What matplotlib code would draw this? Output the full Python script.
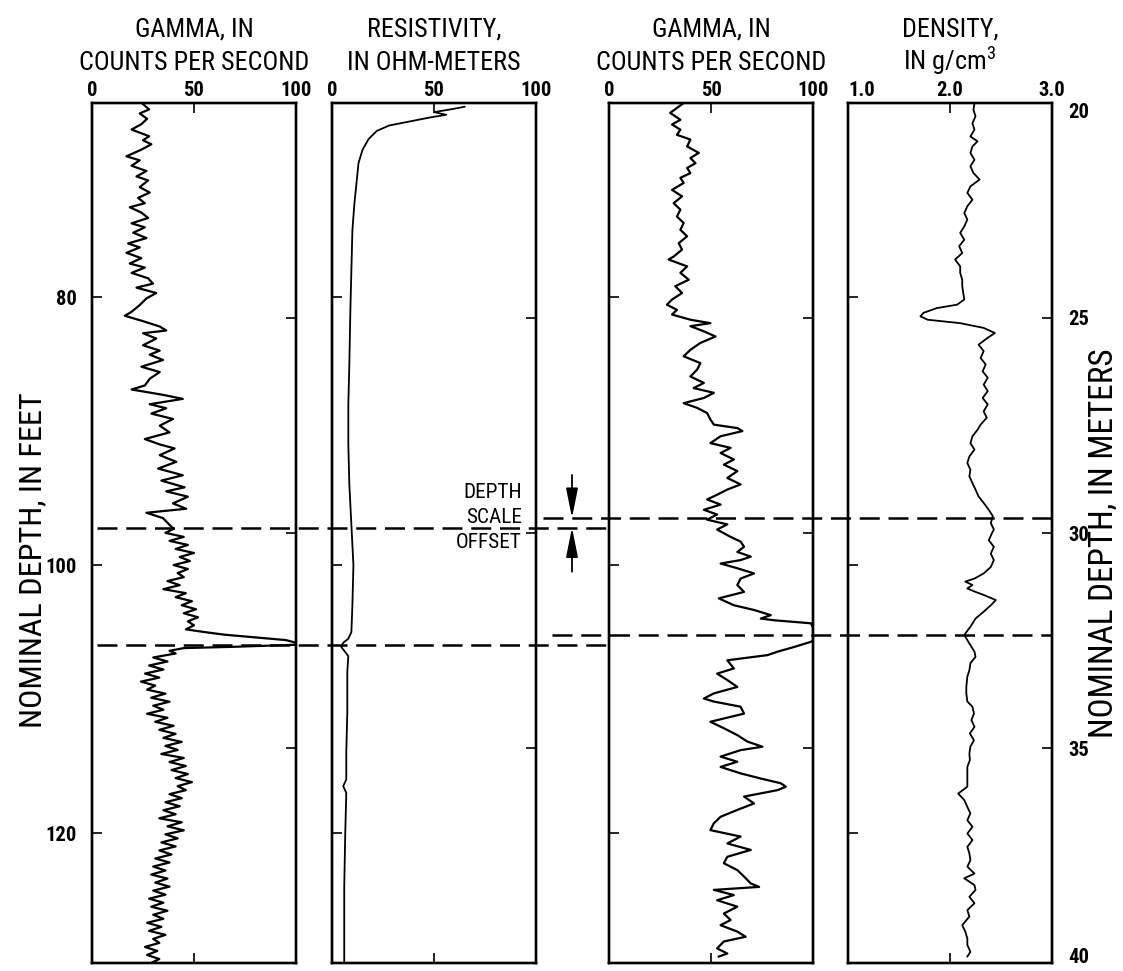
import numpy as np
import matplotlib
matplotlib.use("Agg")
import matplotlib.pyplot as plt
from matplotlib import font_manager
from matplotlib.transforms import blended_transform_factory
from matplotlib.patches import FancyArrowPatch

# ---------------- data ----------------
# Panel 1: gamma (counts per second) vs nominal depth in feet
gamma1_depth_ft = [65.6, 66.0, 66.3, 66.7, 67.1, 67.5, 68.0, 68.3, 68.6, 69.0, 69.5, 69.8, 70.2, 70.6,
                   71.0, 71.3, 71.8, 72.2, 72.6, 73.0, 73.3, 73.7, 74.1, 74.5, 74.8, 75.2, 75.6, 76.0,
                   76.3, 76.7, 77.1, 77.5, 77.8, 78.2, 78.6, 79.0, 79.3, 79.7, 80.1, 80.6, 81.1, 81.4,
                   81.8, 82.2, 82.5, 82.7, 83.1, 83.6, 84.0, 84.3, 84.7, 85.2, 85.6, 86.1, 86.6, 86.9,
                   87.3, 87.6, 88.0, 88.3, 88.7, 89.1, 89.6, 90.1, 90.6, 91.0, 91.3, 91.8, 92.3, 92.8,
                   93.3, 93.7, 94.2, 94.5, 94.9, 95.4, 95.8, 96.1, 96.5, 97.0,
                   97.3, 97.6, 97.9, 98.2, 98.5, 98.8, 99.1, 99.4, 99.7, 100.0, 100.3, 100.6, 100.9,
                   101.2, 101.5, 101.8, 102.1, 102.4, 102.7, 103.0, 103.3, 103.6, 103.9, 104.2, 104.5,
                   104.8, 105.0, 105.2, 105.4, 105.6, 105.8, 105.95, 106.1, 106.2, 106.4, 106.6, 106.9,
                   107.2, 107.5, 107.8, 108.1, 108.4, 108.7, 109.0, 109.3, 109.6, 109.9, 110.2, 110.5,
                   110.8, 111.1, 111.4, 111.7, 112.0, 112.3, 112.6, 112.9, 113.2, 113.5, 113.8, 114.1,
                   114.4, 114.7, 115.0, 115.3, 115.6, 115.9, 116.2, 116.5, 116.8, 117.1, 117.4, 117.7,
                   118.0, 118.3, 118.6, 118.9, 119.2, 119.5, 119.8, 120.1, 120.4, 120.7, 121.0, 121.3,
                   121.6, 121.9, 122.2, 122.5, 122.8, 123.1, 123.4, 123.7, 124.0, 124.3, 124.6, 124.9,
                   125.2, 125.5, 125.8, 126.1, 126.4, 126.7, 127.0, 127.3, 127.6, 127.9, 128.2, 128.5,
                   128.8, 129.1, 129.4, 129.7]
gamma1_cps = [25.0, 28.0, 23.4, 27.0, 24.2, 19.4, 28.0, 25.0, 29.1, 24.2, 16.9, 23.4, 19.4, 26.7,
              21.8, 27.5, 23.4, 28.3, 22.6, 25.9, 18.5, 24.2, 27.5, 19.4, 25.9, 20.2, 26.7, 17.7,
              23.4, 16.9, 24.2, 18.5, 25.9, 19.4, 27.5, 29.9, 21.8, 31.5, 26.7, 23.4, 19.4, 16.1,
              25.0, 33.2, 36.4, 25.0, 31.5, 25.0, 33.2, 28.3, 34.8, 24.2, 33.2, 28.3, 25.9, 19.4,
              34.8, 44.5, 28.3, 36.4, 29.1, 39.7, 33.2, 38.0, 25.9, 33.2, 40.5, 33.2, 41.3, 32.4,
              44.5, 34.0, 45.4, 36.4, 47.0, 39.7, 46.2, 26.7, 34.8, 38.0,
              40, 36, 45, 38, 47, 41, 50, 43, 48, 40, 47, 42, 45,
              37, 43, 35, 46, 41, 49, 44, 51, 45, 52, 47, 50,
              46, 55, 65, 80, 95, 100, 100, 70, 45, 38, 41, 30,
              37, 28, 35, 26, 33, 24, 31, 27, 36, 29, 38, 30,
              35, 27, 37, 31, 40, 33, 41, 35, 44, 36, 42, 34,
              45, 38, 46, 39, 47, 41, 49, 42, 46, 38, 44, 36,
              43, 35, 41, 33, 44, 37, 45, 36, 42, 34, 41, 33,
              39, 31, 38, 30, 36, 29, 37, 31, 38, 30, 36, 28,
              35, 29, 37, 30, 35, 27, 34, 28, 36, 30, 33, 26,
              32, 27, 33, 29]

# Panel 2: resistivity (ohm-meters) vs nominal depth in feet
res_depth_ft = [65.8, 66.0, 66.2, 66.4, 66.6, 66.9, 67.2, 67.6, 68.2, 69.0, 70.0, 71.5, 73.0, 75.0,
                78.0, 81.0, 85.0, 88.0, 91.0, 94.0, 97.0, 100.0, 103.0, 105.0, 105.5, 105.8,
                106.1, 106.4, 106.8, 108.0, 111.0, 114.0, 116.0, 116.5, 117.0, 120.0, 124.0, 127.0, 129.7]
res_ohmm = [65, 58, 50, 56, 48, 38, 28, 22, 18, 15, 13, 12, 11, 10,
            9.5, 9, 8.5, 8, 8, 8.5, 9.5, 10.5, 10, 9.5, 8, 5.5,
            4.5, 6, 8, 7.5, 7.5, 7, 7, 5.5, 7, 6.5, 6, 6, 6]

# Panel 3: gamma (counts per second) vs nominal depth in meters
gamma3_depth_m = [20.00, 20.23, 20.39, 20.50, 20.62, 20.74, 20.85, 21.01, 21.16, 21.28, 21.40, 21.51,
                  21.63, 21.74, 21.86, 22.02, 22.17, 22.33, 22.48, 22.64, 22.79, 22.95, 23.10, 23.26,
                  23.41, 23.57, 23.64, 23.80, 23.95, 24.11, 24.26, 24.42, 24.57, 24.69, 24.81, 24.92,
                  25.04, 25.12, 25.19, 25.31, 25.43, 25.58, 25.74, 25.89, 26.05, 26.20, 26.36, 26.51,
                  26.63, 26.74, 26.86, 26.98, 27.09, 27.21, 27.36, 27.48, 27.56, 27.63, 27.75, 27.91,
                  28.02, 28.14, 28.29, 28.41, 28.56, 28.72, 28.87, 28.99, 29.11, 29.22, 29.34, 29.46,
                  29.57, 29.69, 29.80, 29.92, 30.09, 30.20, 30.32, 30.44, 30.55, 30.63, 30.71, 30.82,
                  30.94, 31.06, 31.21, 31.37, 31.52, 31.68, 31.79, 31.91, 31.99, 32.03, 32.10, 32.20,
                  32.50, 32.53, 32.65, 32.76, 32.84, 32.96, 33.15, 33.27, 33.42, 33.58, 33.73, 33.85,
                  33.92, 34.04, 34.20, 34.39, 34.54, 34.70, 34.85, 34.97, 35.05, 35.20, 35.32, 35.44,
                  35.59, 35.71, 35.82, 35.90, 35.98, 36.13, 36.29, 36.44, 36.60, 36.75, 36.91, 37.06,
                  37.22, 37.37, 37.53, 37.68, 37.84, 37.99, 38.15, 38.23, 38.30, 38.42, 38.54, 38.69,
                  38.85, 39.00, 39.12, 39.27, 39.39, 39.50, 39.66, 39.78, 39.85]
gamma3_cps = [36.6, 30.0, 35.0, 30.9, 35.0, 33.3, 39.9, 38.3, 44.0, 39.9, 42.4, 38.3,
              39.9, 35.0, 36.6, 30.9, 35.8, 31.7, 35.0, 33.3, 36.6, 35.0, 38.3, 34.2,
              35.8, 31.7, 29.2, 38.3, 35.0, 39.1, 32.5, 35.8, 30.9, 28.4, 33.3, 30.9,
              39.9, 49.7, 39.9, 46.5, 52.2, 44.8, 39.9, 36.6, 44.8, 43.2, 39.9, 46.5,
              41.5, 51.4, 46.5, 36.6, 43.2, 48.1, 49.7, 51.4, 62.9, 65.4, 54.7, 49.7,
              59.6, 54.7, 61.2, 56.3, 62.9, 58.0, 64.5, 58.0, 53.0, 48.1, 54.7, 46.5,
              53.0, 48.1, 58.0, 53.0, 59.6, 64.5, 66.2, 62.9, 69.5, 64.5, 54.7, 62.9,
              71.1, 64.5, 62.9, 66.2, 53.8, 61.2, 71.1, 79.3, 74.4, 81.0, 99.0, 100.0,
              100.0, 99.0, 90.8, 82.6, 77.7, 58.0, 61.2, 53.0, 58.0, 62.9, 51.4, 46.5,
              51.4, 64.5, 66.2, 49.7, 56.3, 62.9, 67.8, 75.2, 64.5, 54.7, 62.9, 54.7,
              64.5, 74.4, 84.2, 86.7, 82.6, 66.2, 71.1, 62.9, 54.7, 51.4, 49.7, 64.5,
              58.0, 69.5, 58.0, 56.3, 62.9, 66.2, 69.5, 73.6, 51.4, 61.2, 53.0, 62.9,
              56.3, 59.6, 54.7, 62.9, 67.0, 56.3, 53.0, 58.0, 53.8]

# Panel 4: density (g/cm3) vs nominal depth in meters
dens_depth_m = [20.00, 20.16, 20.31, 20.47, 20.62, 20.78, 20.89, 21.01, 21.16, 21.32, 21.47, 21.63,
                21.78, 21.94, 22.09, 22.25, 22.40, 22.56, 22.71, 22.87, 23.02, 23.18, 23.33, 23.49,
                23.64, 23.80, 23.95, 24.11, 24.26, 24.42, 24.57, 24.69, 24.77, 24.88, 24.96, 25.04,
                25.12, 25.23, 25.35, 25.46, 25.62, 25.77, 25.93, 26.08, 26.24, 26.39, 26.55, 26.70,
                26.86, 27.01, 27.17, 27.32, 27.48, 27.60, 27.75, 27.91, 28.06, 28.22, 28.37, 28.53,
                28.68, 28.84, 28.99, 29.15, 29.30, 29.46, 29.61, 29.77, 29.92, 30.01, 30.17, 30.32,
                30.48, 30.63, 30.79, 30.94, 31.06, 31.13, 31.21, 31.29, 31.37, 31.44, 31.56, 31.68,
                31.83, 31.99, 32.18, 32.37, 32.57, 32.76, 32.88, 33.03, 33.19, 33.34, 33.58, 33.73,
                33.92, 34.04, 34.20, 34.35, 34.51, 34.66, 34.82, 34.97, 35.13, 35.28, 35.44, 35.67,
                35.90, 36.06, 36.21, 36.37, 36.52, 36.68, 36.83, 36.99, 37.14, 37.30, 37.45, 37.61,
                37.76, 37.92, 38.03, 38.19, 38.30, 38.46, 38.61, 38.77, 38.92, 39.12, 39.27, 39.43,
                39.58, 39.74, 39.85]
dens_gcc = [2.24, 2.23, 2.25, 2.22, 2.24, 2.20, 2.27, 2.22, 2.20, 2.24, 2.20, 2.23,
            2.29, 2.20, 2.17, 2.22, 2.17, 2.14, 2.17, 2.14, 2.10, 2.14, 2.09, 2.12,
            2.05, 2.10, 2.10, 2.12, 2.12, 2.13, 2.14, 2.07, 1.87, 1.74, 1.71, 1.78,
            2.10, 2.33, 2.44, 2.37, 2.28, 2.33, 2.30, 2.35, 2.32, 2.37, 2.33, 2.37,
            2.32, 2.37, 2.33, 2.36, 2.30, 2.27, 2.22, 2.20, 2.24, 2.19, 2.17, 2.20,
            2.19, 2.22, 2.25, 2.28, 2.33, 2.38, 2.42, 2.40, 2.43, 2.41, 2.38, 2.43,
            2.40, 2.43, 2.40, 2.33, 2.24, 2.15, 2.22, 2.17, 2.25, 2.33, 2.45, 2.40,
            2.33, 2.25, 2.20, 2.14, 2.19, 2.24, 2.25, 2.20, 2.19, 2.17, 2.16, 2.16,
            2.17, 2.22, 2.235, 2.21, 2.24, 2.195, 2.235, 2.20, 2.19, 2.195, 2.17, 2.17,
            2.17, 2.08, 2.14, 2.17, 2.20, 2.17, 2.22, 2.17, 2.22, 2.17, 2.19, 2.20,
            2.17, 2.24, 2.14, 2.24, 2.25, 2.19, 2.24, 2.17, 2.19, 2.12, 2.15, 2.17,
            2.17, 2.20, 2.17]

# Depth-scale marker lines
left_marks_ft = [97.2, 106.0]       # dashed lines across the two left logs (feet)
right_marks_m = [29.65, 32.37]      # dashed lines across the two right logs (meters)

# Axis limits / ticks / texts
FT_TOP, FT_BOT = 65.52, 129.70
M_TOP, M_BOT = 20, 40
ft_ticks = [80, 100, 120]
m_ticks = [20, 25, 30, 35, 40]
titles = [("GAMMA, IN", "COUNTS PER SECOND"), ("RESISTIVITY,", "IN OHM-METERS"),
          ("GAMMA, IN", "COUNTS PER SECOND"), ("DENSITY,", "IN g/cm$^3$")]
x_limits = [(0, 100), (0, 100), (0, 100), (1.0, 3.0)]
x_ticks = [[0, 50, 100], [0, 50, 100], [0, 50, 100], [1.0, 2.0, 3.0]]
x_ticklabels = [["0", "50", "100"], ["0", "50", "100"], ["0", "50", "100"], ["1.0", "2.0", "3.0"]]

# ---------------- fonts: prefer a condensed sans ----------------
ttf = font_manager.fontManager.ttflist
names = {f.name for f in ttf}
FONT, STRETCH = None, 'normal'
for n in ['Liberation Sans Narrow', 'Roboto Condensed', 'Noto Sans Condensed',
          'Open Sans Condensed', 'DejaVu Sans Condensed', 'Arial Narrow']:
    if n in names:
        FONT = n
        break
if FONT is None:
    cond = {'condensed', 'semi-condensed', 'extra-condensed', 'ultra-condensed'}
    for fam in ['Roboto', 'Noto Sans', 'Open Sans', 'DejaVu Sans', 'Liberation Sans']:
        if any(f.name == fam and str(f.stretch) in cond for f in ttf):
            FONT, STRETCH = fam, 'condensed'
            break
if FONT is None:
    FONT = 'Liberation Sans'
plt.rcParams['font.family'] = [FONT, 'DejaVu Sans']
plt.rcParams['font.stretch'] = STRETCH
plt.rcParams['mathtext.fontset'] = 'custom'
plt.rcParams['mathtext.rm'] = FONT

# ---------------- layout ----------------
W, H = 1123, 971
fig = plt.figure(figsize=(W / 100, H / 100), dpi=100)
renderer = fig.canvas.get_renderer()


def px_y(y):
    return 1 - y / H


def fit_size(text, target_px, weight='normal', rotation=0, base=20):
    t = fig.text(0, 0, text, fontsize=base, fontweight=weight, rotation=rotation)
    bb = t.get_window_extent(renderer)
    t.remove()
    size = bb.height if rotation else bb.width
    return base * target_px / size


TW = 'normal'  # title / label weight
FS_TITLE = fit_size("COUNTS PER SECOND", 230, weight=TW)
FS_TICK = fit_size("100", 31, weight='bold')
FS_NOTE = fit_size("OFFSET", 66, weight=TW)
FS_LAB_L = fit_size("NOMINAL DEPTH, IN FEET", 335, weight=TW, rotation=90)
FS_LAB_R = fit_size("NOMINAL DEPTH, IN METERS", 390, weight=TW, rotation=90)

lefts_px = [92, 332, 609, 848]
width_px = 204
top_px, bot_px = 103, 963
LW_SPINE = 1.7
TICK_LEN = 7

axes_ft, axes_m = [], []
for i, lp in enumerate(lefts_px):
    rect = [lp / W, 1 - bot_px / H, width_px / W, (bot_px - top_px) / H]
    ax = fig.add_axes(rect)
    ax.set_xlim(*x_limits[i])
    ax.set_ylim(FT_BOT, FT_TOP)
    ax.set_yticks(ft_ticks)
    ax.set_xticks(x_ticks[i])
    ax.set_xticklabels(x_ticklabels[i], fontweight='bold')
    ax.tick_params(axis='x', which='both', top=True, bottom=True, labeltop=True,
                   labelbottom=False, direction='in', length=TICK_LEN, width=1.2,
                   labelsize=FS_TICK, pad=2)
    ax.tick_params(axis='y', left=True, right=False, direction='in', length=TICK_LEN,
                   width=1.2, labelleft=(i == 0), labelsize=FS_TICK, pad=11)
    for lab in ax.get_yticklabels():
        lab.set_fontweight('bold')
    for s in ax.spines.values():
        s.set_linewidth(LW_SPINE)
    axm = ax.twinx()
    axm.set_ylim(M_BOT, M_TOP)
    axm.set_yticks(m_ticks if i == 3 else m_ticks[1:-1])
    axm.tick_params(axis='y', right=True, direction='in', length=TICK_LEN, width=1.2,
                    labelright=(i == 3), labelsize=FS_TICK, pad=12)
    for s in axm.spines.values():
        s.set_linewidth(LW_SPINE)
    axes_ft.append(ax)
    axes_m.append(axm)
    cx = (lp + width_px / 2) / W
    fig.text(cx, px_y(37), titles[i][0], ha='center', va='baseline', fontsize=FS_TITLE,
             fontweight=TW)
    fig.text(cx, px_y(70), titles[i][1], ha='center', va='baseline', fontsize=FS_TITLE,
             fontweight=TW)

# top-left label of the density scale sits just inside the panel
axes_ft[3].get_xticklabels()[0].set_horizontalalignment('left')

# meters labels on the far right
for k, lab in enumerate(axes_m[3].get_yticklabels()):
    lab.set_fontweight('bold')
    if k == 0:
        lab.set_verticalalignment('top')
    elif k == len(m_ticks) - 1:
        lab.set_verticalalignment('baseline')

# ---------------- curves ----------------
axes_ft[0].plot(gamma1_cps, gamma1_depth_ft, color='black', lw=1.6)
axes_ft[1].plot(res_ohmm, res_depth_ft, color='black', lw=1.3)
axes_m[2].plot(gamma3_cps, gamma3_depth_m, color='black', lw=1.6)
axes_m[3].plot(dens_gcc, dens_depth_m, color='black', lw=1.3)

# ---------------- dashed depth markers ----------------
tr_ft = blended_transform_factory(fig.transFigure, axes_ft[0].transData)
tr_m = blended_transform_factory(fig.transFigure, axes_m[3].transData)
left_starts_px = [97, 97]
for d, xs in zip(left_marks_ft, left_starts_px):
    fig.add_artist(plt.Line2D([xs / W, lefts_px[2] / W], [d, d], transform=tr_ft,
                              color='black', lw=1.8, dashes=(8, 3.5)))
right_starts_px = [543, 552]
for d, xs in zip(right_marks_m, right_starts_px):
    fig.add_artist(plt.Line2D([xs / W, (lefts_px[3] + width_px) / W], [d, d], transform=tr_m,
                              color='black', lw=1.8, dashes=(8, 3.5)))

# ---------------- depth scale offset annotation ----------------
for word, yb in zip(["DEPTH", "SCALE", "OFFSET"], [498, 523, 548]):
    fig.text(522 / W, px_y(yb), word, ha='right', va='baseline', fontsize=FS_NOTE,
             fontweight=TW)
ax_x = 572 / W
arrow_kw = dict(arrowstyle='-|>,head_length=1.0,head_width=0.2', color='black',
                lw=1.3, shrinkA=0, shrinkB=0, mutation_scale=18)
fig.add_artist(FancyArrowPatch((ax_x, 28.65), (ax_x, right_marks_m[0]),
                               transform=tr_m, **arrow_kw))
fig.add_artist(FancyArrowPatch((ax_x, 100.5), (ax_x, left_marks_ft[0]),
                               transform=tr_ft, **arrow_kw))

# ---------------- axis labels ----------------
fig.text(33 / W, px_y(560), "NOMINAL DEPTH, IN FEET", rotation=90, ha='center',
         va='center', fontsize=FS_LAB_L, fontweight=TW)
fig.text(1104 / W, px_y(543), "NOMINAL DEPTH, IN METERS", rotation=90, ha='center',
         va='center', fontsize=FS_LAB_R, fontweight=TW)

fig.savefig("out.png", dpi=100)
